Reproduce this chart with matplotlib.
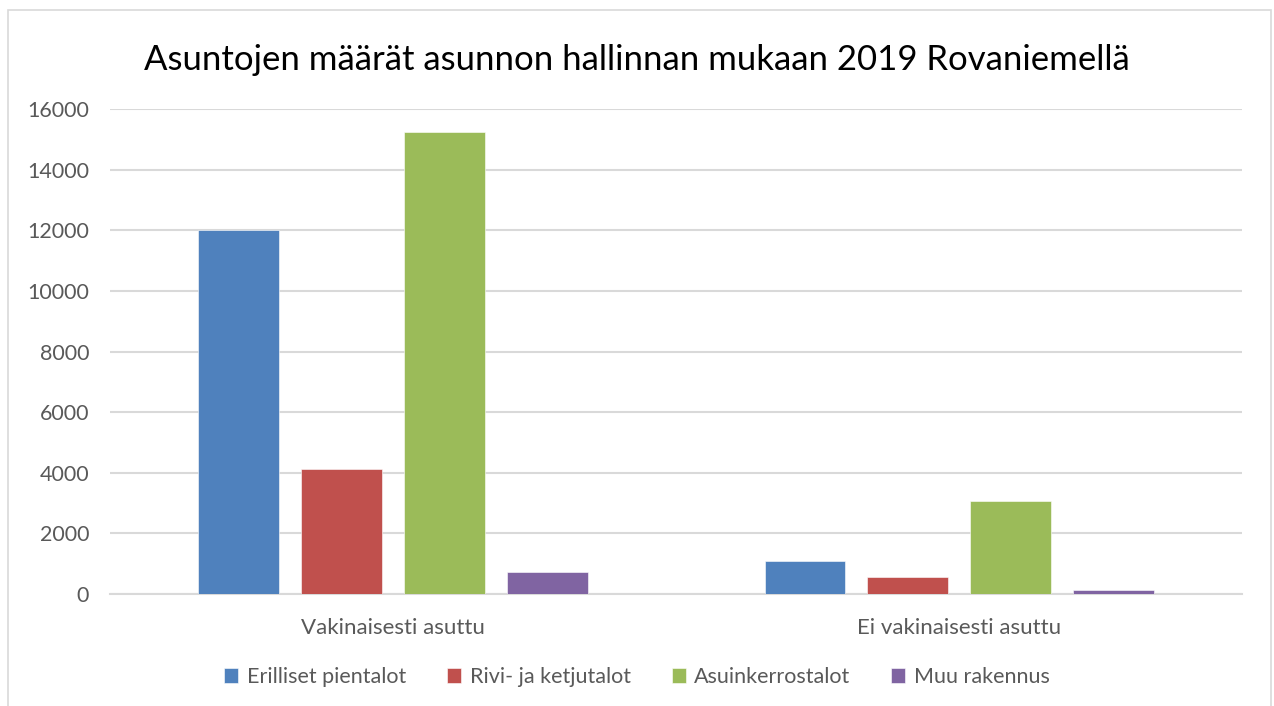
import matplotlib.pyplot as plt
import numpy as np
from matplotlib.patches import Rectangle

# data
categories = ['Vakinaisesti asuttu', 'Ei vakinaisesti asuttu']
series = ['Erilliset pientalot', 'Rivi- ja ketjutalot', 'Asuinkerrostalot', 'Muu rakennus']
erilliset = [12000, 1100]
rivi = [4140, 550]
kerros = [15240, 3060]
muu = [720, 120]
colors = ['#4F81BD', '#C0504D', '#9BBB59', '#8064A2']

plt.rcParams['font.family'] = ['Lato', 'DejaVu Sans']

fig = plt.figure(figsize=(12.74, 7.06), dpi=100)
ax = fig.add_axes([0.0863, 0.1586, 0.975 - 0.0863, 0.8456 - 0.1586])

#outer frame like the chart area border
fig.patches.append(Rectangle((8 / 1274, -0.01), (1271 - 8) / 1274, 1 - 10 / 706 + 0.01,
                             transform=fig.transFigure, fill=False,
                             edgecolor='#D9D9D9', linewidth=1.2))

x = np.arange(len(categories))
width = 0.143
step = 0.1815
values = [erilliset, rivi, kerros, muu]
for i, (name, vals) in enumerate(zip(series, values)):
    ax.bar(x + (i - 1.5) * step, vals, width, color=colors[i], label=name,
           edgecolor='white', linewidth=0.4, zorder=3)

ax.set_xlim(-0.5, 1.5)
ax.set_ylim(0, 16000)
ax.set_yticks(range(0, 16001, 2000))
ax.set_xticks(x)
ax.set_xticklabels(categories)
ax.grid(axis='y', color='#D9D9D9', linewidth=1.5, zorder=0)
for s in ['top', 'right', 'left']:
    ax.spines[s].set_visible(False)
ax.spines['bottom'].set_color('#D9D9D9')
ax.spines['bottom'].set_linewidth(1.5)
ax.tick_params(axis='x', length=0, labelsize=16, colors='#595959', pad=17)
ax.tick_params(axis='y', length=0, labelsize=15.5, colors='#595959', pad=15)

fig.text(0.5, 0.915, 'Asuntojen määrät asunnon hallinnan mukaan 2019 Rovaniemellä',
         ha='center', va='center', fontsize=25, color='black')

ax.legend(loc='center', bbox_to_anchor=(0.5, 1 - 677 / 706), bbox_transform=fig.transFigure,
          ncol=4, frameon=False, fontsize=15.5, handlelength=0.65, handleheight=0.65,
          handletextpad=0.4, columnspacing=1.9, labelcolor='#595959')

fig.savefig('out.png', dpi=100)
